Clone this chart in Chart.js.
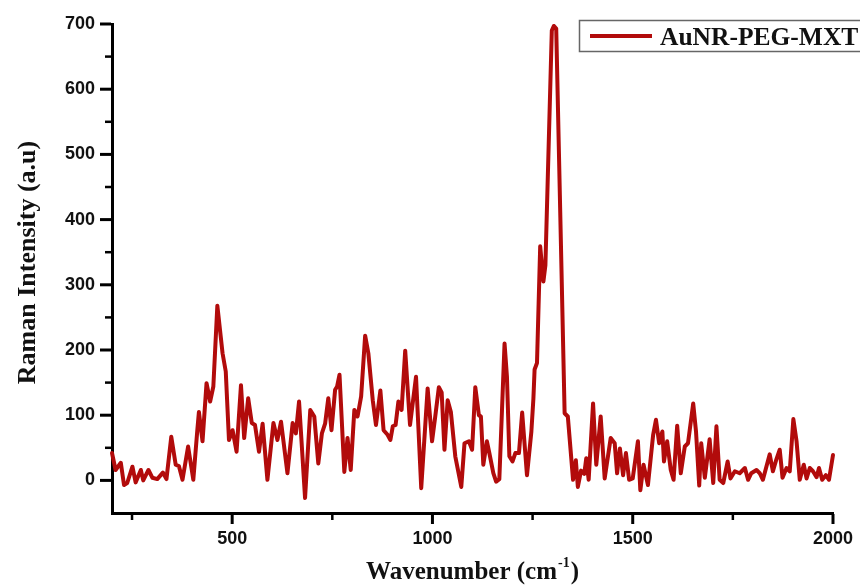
<!DOCTYPE html>
<html>
<head>
<meta charset="utf-8">
<script src="https://cdn.jsdelivr.net/npm/chart.js@4.4.1/dist/chart.umd.min.js"></script>
<style>
  html, body { margin: 0; padding: 0; background: #fff; }
  #contenedor { width: 860px; height: 586px; }
</style>
</head>
<body>
<div id="contenedor"><canvas id="grafico" width="860" height="586"></canvas></div>
<script>
// Espectro Raman leído a ojo de la figura original (cm-1 / a.u.)
const numerosOnda = [
  200, 209, 222, 230, 238, 251, 259, 272, 278, 291, 301, 313, 327, 336, 348, 359, 367, 376, 390, 403,
  413, 417, 426, 436, 445, 453, 463, 476, 484, 492, 501, 511, 522, 530, 540, 549, 557, 567, 576, 588,
  603, 613, 622, 638, 651, 659, 667, 682, 695, 705, 715, 724, 732, 740, 748, 757, 762, 768, 780, 788,
  796, 805, 813, 822, 832, 840, 851, 859, 870, 878, 888, 895, 901, 908, 915, 923, 932, 944, 959, 972,
  988, 999, 1007, 1016, 1023, 1030, 1038, 1046, 1057, 1072, 1080, 1091, 1099, 1107, 1116, 1121, 1127, 1136, 1142, 1152,
  1159, 1167, 1180, 1186, 1192, 1200, 1207, 1216, 1224, 1236, 1247, 1252, 1255, 1261, 1269, 1277, 1282, 1298, 1303, 1309,
  1330, 1338, 1351, 1358, 1363, 1371, 1379, 1384, 1390, 1401, 1409, 1420, 1430, 1445, 1455, 1461, 1468, 1476, 1483, 1491,
  1500, 1513, 1519, 1527, 1538, 1551, 1558, 1566, 1574, 1578, 1586, 1595, 1602, 1611, 1620, 1630, 1638, 1651, 1658, 1666,
  1671, 1680, 1692, 1701, 1709, 1717, 1726, 1737, 1744, 1755, 1767, 1780, 1788, 1796, 1809, 1817, 1825, 1842, 1850, 1858,
  1867, 1874, 1884, 1892, 1901, 1909, 1917, 1927, 1934, 1942, 1950, 1959, 1965, 1973, 1982, 1990, 2000,
];
const intensidades = [
  42, 16, 27, -7, -4, 21, -3, 16, 0, 16, 4, 2, 12, 2, 67, 24, 22, 1, 52, 1,
  77, 105, 60, 149, 121, 144, 268, 195, 167, 62, 77, 44, 146, 65, 126, 88, 85, 44, 87, 1,
  88, 62, 90, 11, 88, 72, 121, -27, 108, 98, 26, 72, 87, 126, 77, 139, 144, 162, 13, 65,
  16, 108, 98, 129, 222, 195, 123, 85, 138, 77, 70, 62, 83, 85, 121, 108, 199, 85, 159, -12,
  141, 60, 98, 143, 135, 47, 123, 105, 37, -10, 57, 60, 47, 143, 100, 98, 24, 60, 42, 11,
  -2, 2, 210, 159, 37, 29, 42, 42, 104, 8, 75, 125, 170, 180, 359, 305, 330, 690, 697, 693,
  103, 98, 1, 31, -10, 15, 10, 34, 1, 118, 24, 98, 3, 65, 57, 11, 49, 8, 42, 1,
  3, 60, -15, 24, -7, 70, 93, 57, 75, 29, 60, 16, 1, 84, 11, 52, 57, 118, 75, -8,
  57, 4, 63, -4, 83, 1, -4, 29, 3, 14, 11, 19, 1, 11, 16, 11, 1, 40, 14, 31,
  47, 4, 19, 14, 94, 60, 1, 24, 3, 19, 14, 5, 19, 1, 8, 1, 39,
];

const etiquetaSerie = 'AuNR-PEG-MXT';
const tituloEjeY = 'Raman Intensity (a.u)';
const tituloEjeX = 'Wavenumber (cm';
const superindiceX = '-1';

const ticksX = [500, 1000, 1500, 2000];
const ticksY = [0, 100, 200, 300, 400, 500, 600, 700];
const ticksMenoresX = [250, 750, 1250, 1750];
const ticksMenoresY = [50, 150, 250, 350, 450, 550, 650];

const COLOR_LINEA = '#b20b0b';
const FUENTE_SANS = "'Liberation Sans', Arial, sans-serif";
const FUENTE_SERIF = "'Liberation Serif', 'Times New Roman', serif";

function trazar(ctx, x1, y1, x2, y2) {
  ctx.beginPath();
  ctx.moveTo(x1, y1);
  ctx.lineTo(x2, y2);
  ctx.stroke();
}

// Ticks (mayores y menores), títulos de ejes y la leyenda recortada en la esquina
const decoraciones = {
  id: 'decoraciones',
  afterDraw(chart) {
    const { ctx, chartArea, scales } = chart;
    const abajo = chartArea.bottom + 1;
    const izq = chartArea.left - 1;
    ctx.save();

    ctx.strokeStyle = '#000';
    ctx.lineWidth = 3;
    ticksX.forEach(v => {
      const x = scales.x.getPixelForValue(v);
      trazar(ctx, x, abajo, x, abajo + 10);
    });
    ticksY.forEach(v => {
      const y = scales.y.getPixelForValue(v);
      trazar(ctx, izq, y, izq - 11, y);
    });
    ctx.lineWidth = 2.5;
    ticksMenoresX.forEach(v => {
      const x = scales.x.getPixelForValue(v);
      trazar(ctx, x, abajo, x, abajo + 6);
    });
    ticksMenoresY.forEach(v => {
      const y = scales.y.getPixelForValue(v);
      trazar(ctx, izq, y, izq - 6, y);
    });

    // título X con superíndice
    ctx.fillStyle = '#111';
    ctx.textBaseline = 'alphabetic';
    ctx.font = `bold 25px ${FUENTE_SERIF}`;
    const anchoBase = ctx.measureText(tituloEjeX).width;
    const anchoCierre = ctx.measureText(')').width;
    ctx.font = `bold 14px ${FUENTE_SERIF}`;
    const anchoSup = ctx.measureText(superindiceX).width;
    const centroX = (chartArea.left + chartArea.right) / 2;
    let x = centroX - (anchoBase + anchoSup + anchoCierre + 2) / 2;
    ctx.textAlign = 'left';
    ctx.font = `bold 25px ${FUENTE_SERIF}`;
    ctx.fillText(tituloEjeX, x, 579);
    x += anchoBase + 1;
    ctx.font = `bold 14px ${FUENTE_SERIF}`;
    ctx.fillText(superindiceX, x, 567);
    x += anchoSup + 1;
    ctx.font = `bold 25px ${FUENTE_SERIF}`;
    ctx.fillText(')', x, 579);

    // título Y rotado
    ctx.save();
    ctx.translate(35, (chartArea.top + chartArea.bottom) / 2 - 6);
    ctx.rotate(-Math.PI / 2);
    ctx.textAlign = 'center';
    ctx.font = `bold 26px ${FUENTE_SERIF}`;
    ctx.fillText(tituloEjeY, 0, 0);
    ctx.restore();

    // leyenda
    const ds = chart.data.datasets[0];
    ctx.strokeStyle = '#666';
    ctx.lineWidth = 1.5;
    ctx.strokeRect(579.5, 20.5, 300, 31);
    ctx.strokeStyle = ds.borderColor;
    ctx.lineWidth = 4;
    trazar(ctx, 590, 36, 652, 36);
    ctx.fillStyle = '#111';
    ctx.textAlign = 'left';
    ctx.font = `bold 25.5px ${FUENTE_SERIF}`;
    ctx.fillText(ds.label, 660, 45);

    ctx.restore();
  },
};

const puntos = numerosOnda.map((x, i) => ({ x, y: intensidades[i] }));

new Chart(document.getElementById('grafico'), {
  type: 'line',
  data: {
    datasets: [{
      label: etiquetaSerie,
      data: puntos,
      borderColor: COLOR_LINEA,
      borderWidth: 4,
      borderJoinStyle: 'round',
      borderCapStyle: 'round',
      pointRadius: 0,
      tension: 0,
      fill: false,
      clip: false,
    }],
  },
  options: {
    responsive: false,
    animation: false,
    devicePixelRatio: 1,
    layout: { padding: { top: 24, right: 27, left: 0, bottom: 0 } },
    plugins: {
      legend: { display: false },
      tooltip: { enabled: false },
    },
    scales: {
      x: {
        type: 'linear',
        min: 200,
        max: 2000,
        afterFit(scale) {
          scale.height = 73;
          scale.paddingLeft = 0;
          scale.paddingRight = 0;
        },
        afterBuildTicks(scale) { scale.ticks = ticksX.map(value => ({ value })); },
        border: { display: true, color: '#000', width: 3 },
        grid: { drawOnChartArea: false, drawTicks: false },
        ticks: {
          autoSkip: false,
          maxRotation: 0,
          padding: 15,
          color: '#111',
          callback: v => String(v),
          font: { family: FUENTE_SANS, size: 18, weight: 'bold' },
        },
      },
      y: {
        type: 'linear',
        min: -50,
        max: 700,
        afterFit(scale) {
          scale.width = 112;
          scale.paddingTop = 0;
          scale.paddingBottom = 0;
        },
        afterBuildTicks(scale) { scale.ticks = ticksY.map(value => ({ value })); },
        border: { display: true, color: '#000', width: 3 },
        grid: { drawOnChartArea: false, drawTicks: false },
        ticks: {
          autoSkip: false,
          padding: 17,
          color: '#111',
          callback: v => String(v),
          font: { family: FUENTE_SANS, size: 18, weight: 'bold' },
        },
      },
    },
  },
  plugins: [decoraciones],
});
</script>
</body>
</html>
